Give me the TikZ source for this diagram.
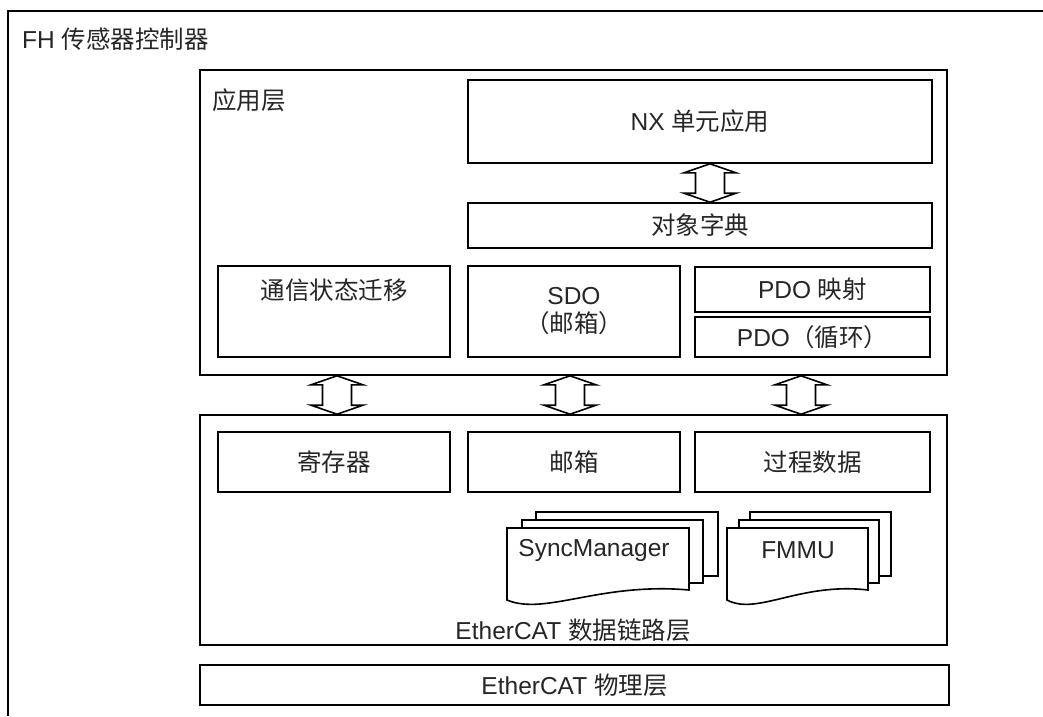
\documentclass[tikz,border=0pt]{standalone}
\usepackage{fontspec}
\setmainfont{Liberation Sans}
\newfontfamily\cjk{Noto Sans CJK SC}
\usetikzlibrary{calc}
\begin{document}
\begin{tikzpicture}[x=1pt,y=-1pt,
  box/.style={draw,line width=1.6pt,fill=white,inner sep=0pt,anchor=center},
  lbl/.style={inner sep=0pt,anchor=center},
  dbl/.style={draw,line width=1.6pt,fill=white,line join=miter},
  doc/.style={draw,line width=1.6pt,fill=white},
  every node/.style={font=\fontsize{24.5}{28}\selectfont,text=black!85}]
\newcommand\dblarr[2]{\draw[dbl] (#1) -- ($(#1)+(26,9)$) -- ($(#1)+(14.5,9)$) -- ($(#2)+(14.5,-9)$) -- ($(#2)+(26,-9)$) -- (#2) -- ($(#2)+(-26,-9)$) -- ($(#2)+(-14.5,-9)$) -- ($(#1)+(-14.5,9)$) -- ($(#1)+(-26,9)$) -- cycle;}
\useasboundingbox (0,0) rectangle (1043,716);
\fill[white] (0,0) rectangle (1043,716);
% outer controller frame (continues beyond the picture)
\draw[line width=1.6pt] (8,716) -- (8,11) -- (1043,11);
\node[lbl,anchor=west] (fh) at (22,39) {FH {\cjk 传感器控制器}};
% application layer
\node[box,minimum width=747pt,minimum height=305pt] (app) at (573.5,222.5) {};
\node[lbl,anchor=west] (applbl) at (212,100) {\cjk 应用层};
\node[box,minimum width=464pt,minimum height=83pt] (nx) at (700,121.5) {NX {\cjk 单元应用}};
\node[box,minimum width=464pt,minimum height=45pt] (od) at (700,225.5) {\cjk 对象字典};
\node[box,minimum width=232pt,minimum height=91pt] (comm) at (334,311.5) {};
\node[lbl] (commtxt) at (334,290) {\cjk 通信状态迁移};
\node[box,minimum width=212pt,minimum height=91pt,align=center] (sdo) at (574,311.5) {SDO\\{\cjk （邮箱）}};
\node[box,minimum width=235pt,minimum height=45pt] (pdom) at (812.5,289.5) {PDO {\cjk 映射}};
\node[box,minimum width=235pt,minimum height=40pt] (pdoc) at (812.5,337) {PDO{\cjk （循环）}};
% data link layer
\node[box,minimum width=747pt,minimum height=230pt] (dll) at (573.5,530) {};
\node[lbl] (dlltxt) at (573,630) {EtherCAT {\cjk 数据链路层}};
\node[box,minimum width=232pt,minimum height=60pt] (reg) at (334,462) {\cjk 寄存器};
\node[box,minimum width=212pt,minimum height=60pt] (mbx) at (574,462) {\cjk 邮箱};
\node[box,minimum width=235pt,minimum height=60pt] (proc) at (812.5,462) {\cjk 过程数据};
% physical layer
\node[box,minimum width=749pt,minimum height=40pt] (phy) at (574.5,685) {EtherCAT {\cjk 物理层}};
% double arrows
\coordinate (ax0) at (710,0);
\coordinate (ax1) at (337,0);
\coordinate (ax2) at (570,0);
\coordinate (ax3) at (801,0);
\coordinate (t0) at (nx.south -| ax0); \coordinate (b0) at (od.north -| ax0);
\coordinate (t1) at (app.south -| ax1); \coordinate (b1) at (dll.north -| ax1);
\coordinate (t2) at (app.south -| ax2); \coordinate (b2) at (dll.north -| ax2);
\coordinate (t3) at (app.south -| ax3); \coordinate (b3) at (dll.north -| ax3);
\dblarr{t0}{b0}
\dblarr{t1}{b1}
\dblarr{t2}{b2}
\dblarr{t3}{b3}
% SyncManager stack
\draw[doc] (536,512) rectangle (718,576);
\draw[doc] (522,520) rectangle (703,583);
\draw[doc] (507,528) -- (689,528) -- (689,590) .. controls (600,582) and (545,616) .. (507,600) -- cycle;
\node[lbl] (sm) at (594,550) {SyncManager};
% FMMU stack
\draw[doc] (750,512) rectangle (891,576);
\draw[doc] (739,520) rectangle (879,583);
\draw[doc] (727,528) -- (868,528) -- (868,590) .. controls (800,582) and (757,616) .. (727,600) -- cycle;
\node[lbl] (fmmu) at (798,550) {FMMU};
\end{tikzpicture}
\end{document}
